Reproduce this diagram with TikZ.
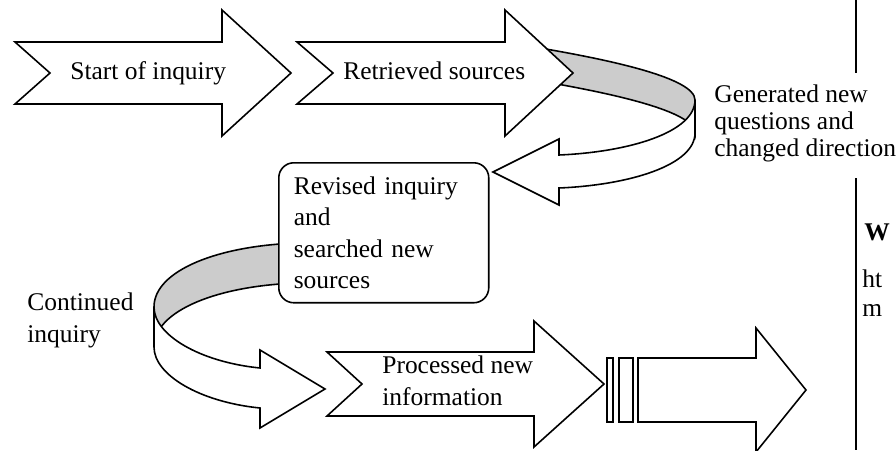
\documentclass[tikz,border=0pt]{standalone}
\usepackage{fontspec}
\setmainfont{Liberation Serif}
\usetikzlibrary{positioning}

\begin{document}
\begin{tikzpicture}[x=0.02cm, y=-0.02cm,
    blockarrow/.style={draw=black, fill=white, line width=0.9pt},
    band/.style={draw=black, fill=black!20, line width=0.9pt},
    txt/.style={anchor=base west, inner sep=0pt, align=left, font=\fontsize{14.5}{17.9}\selectfont}]
    \useasboundingbox (0,0) rectangle (896,450);

    % First arrow
    \draw[blockarrow] (15,42) -- (222,42) -- (222,10) -- (291,73) -- (222,136) -- (222,104) -- (15,104) -- (50,73) -- cycle;
    \node[txt] (start) at (70,79) {Start of inquiry};

    % Turn to the right (inner side grey)
    \draw[band] (540,48) .. controls (610,60) and (695,78) .. (695,100) -- (695,133) .. controls (695,111) and (610,93) .. (540,81) -- cycle;
    \draw[blockarrow] (695,100) .. controls (695,132) and (630,152) .. (559,155) -- (559,139) -- (493,172) -- (559,205) -- (559,188) .. controls (630,185) and (695,165) .. (695,133) -- cycle;

    % Second arrow
    \draw[blockarrow] (297,42) -- (505,42) -- (505,10) -- (573,73) -- (505,136) -- (505,104) -- (297,104) -- (333,73) -- cycle;
    \node[txt] (retrieved) at (343,79) {Retrieved sources};
    % base of a multi-line node = last line
    \node[txt, font=\fontsize{14.5}{15.3}\selectfont] (generated) at (714,156) {Generated new\\questions and\\changed direction};

    % Turn to the left (inner side grey)
    \draw[band] (300,243) .. controls (220,245) and (154,270) .. (154,307) -- (154,347) .. controls (154,310) and (220,285) .. (300,283) -- cycle;
    \draw[blockarrow] (154,307) .. controls (154,335) and (200,362) .. (260,368) -- (260,350) -- (325,389) -- (260,428) -- (260,408) .. controls (200,402) and (154,375) .. (154,347) -- cycle;
    \node[txt] (continued) at (27,342) {Continued\\inquiry};

    % Box
    \node[draw, fill=white, line width=0.9pt, rounded corners=0.3cm, anchor=north west,
          text width=3.6cm, inner xsep=0.3cm, minimum height=2.8cm, align=left,
          font=\fontsize{14.5}{17.9}\selectfont] (revised) at (278,162)
          {Revised inquiry\\and\\searched new\\sources};

    % Third arrow
    \draw[blockarrow] (327,352) -- (534,352) -- (534,321) -- (604,384) -- (534,447) -- (534,416) -- (327,416) -- (362,384) -- cycle;
    \node[txt] (processed) at (382,405) {Processed new\\information};

    % Striped arrow
    \draw[blockarrow] (607,358) rectangle (613,422);
    \draw[blockarrow] (619,358) rectangle (633,422);
    \draw[blockarrow] (638,358) -- (756,358) -- (756,328) -- (806,390) -- (756,452) -- (756,422) -- (638,422) -- cycle;

    % Right column
    \draw[line width=0.6pt] (856,0) -- (856,73);
    \draw[line width=0.6pt] (856,178) -- (856,450);
    \node[txt, font=\fontsize{14.5}{17.9}\selectfont\bfseries] (w) at (864,240) {W};
    \node[txt] (ht) at (862,287) {ht};
    \node[txt] (m) at (862,316) {m};
\end{tikzpicture}
\end{document}
